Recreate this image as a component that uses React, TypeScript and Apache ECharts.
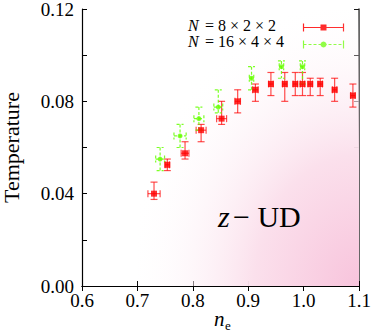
import React, { useEffect, useRef } from "react";
import * as echarts from "echarts";

// N = 8x2x2 (red)
const redNe = [0.730, 0.754, 0.786, 0.815, 0.852, 0.881, 0.913, 0.941, 0.966, 0.985, 0.998, 1.012, 1.030, 1.056, 1.089];
const redT = [0.040, 0.0525, 0.0575, 0.0675, 0.0725, 0.080, 0.085, 0.0875, 0.0875, 0.0875, 0.0875, 0.0875, 0.0875, 0.085, 0.0825];
const redUp = [0.005, 0.0025, 0.005, 0.0025, 0.0075, 0.005, 0.0025, 0.005, 0.005, 0.005, 0.005, 0.0025, 0.0025, 0.005, 0.005];
const redDown = [0.0025, 0.0025, 0.0025, 0.005, 0.0025, 0.005, 0.005, 0.005, 0.0075, 0.005, 0.005, 0.005, 0.005, 0.005, 0.005];
const redNeErr = [0.011, 0.004, 0.007, 0.009, 0.009, 0.005, 0.005, 0.004, 0.004, 0.004, 0.004, 0.004, 0.004, 0.004, 0.004];

// N = 16x4x4 (green)
const greenNe = [0.741, 0.777, 0.811, 0.846, 0.906, 0.960, 0.998];
const greenT = [0.055, 0.065, 0.0725, 0.0775, 0.090, 0.095, 0.095];
const greenUp = [0.005, 0.005, 0.005, 0.0075, 0.005, 0.0025, 0.0025];
const greenDown = [0.005, 0.005, 0.005, 0.0025, 0.005, 0.005, 0.0075];
const greenNeErr = [0.008, 0.011, 0.009, 0.008, 0.004, 0.004, 0.004];

const xTicks = { min: 0.6, max: 1.1, interval: 0.1 };
const yTicks = { min: 0, max: 0.12, interval: 0.02, labelEvery: 0.04 };
const regionNe = [0.7, 1.1];
const regionT = [0, 0.12];

const legendLabels = ["= 8 × 2 × 2", "= 16 × 4 × 4"];
const legendVar = "N";
const phaseVar = "z";
const phaseLabel = "− UD";
const xName = "n";
const xSub = "e";
const yName = "Temperature";

const RED = "#ff0000";
const GREEN = "#66ff00";
const FONT = "Liberation Serif";

function errRender(color: string, dashed: boolean) {
  return (params: any, api: any) => {
    const x = api.value(0), y = api.value(1), up = api.value(2), dn = api.value(3), xe = api.value(4);
    const top = api.coord([x, y + up]);
    const bot = api.coord([x, y - dn]);
    const lft = api.coord([x - xe, y]);
    const rgt = api.coord([x + xe, y]);
    const cap = 3.5;
    const style = { stroke: color, lineWidth: 1.2, lineDash: dashed ? [3, 2] : undefined };
    return {
      type: "group",
      children: [
        { type: "line", shape: { x1: top[0], y1: top[1], x2: bot[0], y2: bot[1] }, style },
        { type: "line", shape: { x1: top[0] - cap, y1: top[1], x2: top[0] + cap, y2: top[1] }, style },
        { type: "line", shape: { x1: bot[0] - cap, y1: bot[1], x2: bot[0] + cap, y2: bot[1] }, style },
        { type: "line", shape: { x1: lft[0], y1: lft[1], x2: rgt[0], y2: rgt[1] }, style },
        { type: "line", shape: { x1: lft[0], y1: lft[1] - cap, x2: lft[0], y2: lft[1] + cap }, style },
        { type: "line", shape: { x1: rgt[0], y1: rgt[1] - cap, x2: rgt[0], y2: rgt[1] + cap }, style },
      ],
    };
  };
}

const ts = (size: number, italic = false) => ({
  fontSize: size,
  fontFamily: FONT,
  fontStyle: italic ? "italic" : "normal",
  fontWeight: "normal",
  color: "#000",
});

const title = (text: string, left: number, top: number, size: number, italic = false) => ({
  text,
  left,
  top,
  padding: 0,
  textStyle: ts(size, italic),
});

export default function App() {
  const ref = useRef<HTMLDivElement>(null);
  useEffect(() => {
    if (!ref.current) return;
    const chart = echarts.init(ref.current, undefined, { renderer: "svg" });
    const redErr = redNe.map((v, i) => [v, redT[i], redUp[i], redDown[i], redNeErr[i]]);
    const greenErr = greenNe.map((v, i) => [v, greenT[i], greenUp[i], greenDown[i], greenNeErr[i]]);
    const axisLine = { show: true, lineStyle: { color: "#000", width: 1.2 } };
    const tickCommon = { show: true, inside: true, length: 5, lineStyle: { color: "#000", width: 1 } };
    chart.setOption({
      animation: false,
      backgroundColor: "#fff",
      textStyle: { fontFamily: FONT },
      title: [
        title(phaseVar, 218, 201, 30, true),
        title(phaseLabel, 233, 201, 30),
        title(legendVar, 188, 17, 16, true),
        title(legendLabels[0], 205, 17, 16),
        title(legendVar, 188, 33, 16, true),
        title(legendLabels[1], 205, 33, 16),
        title(xName, 214, 308, 21, true),
        title(xSub, 225, 319, 13),
      ],
      grid: { left: 82, right: 15, top: 9, bottom: 48, outerBoundsMode: "none" },
      xAxis: [
        {
          type: "value",
          min: xTicks.min,
          max: xTicks.max,
          interval: xTicks.interval,
          axisLine,
          axisTick: tickCommon,
          splitLine: { show: false },
          axisLabel: {
            color: "#000",
            fontSize: 19,
            fontFamily: FONT,
            margin: 5,
            formatter: (v: number) => v.toFixed(1),
          },
        },
        {
          type: "value",
          position: "top",
          min: xTicks.min,
          max: xTicks.max,
          interval: xTicks.interval,
          axisLine,
          axisTick: tickCommon,
          axisLabel: { show: false },
          splitLine: { show: false },
        },
      ],
      yAxis: [
        {
          type: "value",
          min: yTicks.min,
          max: yTicks.max,
          interval: yTicks.interval,
          axisLine,
          axisTick: tickCommon,
          splitLine: { show: false },
          axisLabel: {
            color: "#000",
            fontSize: 19,
            fontFamily: FONT,
            margin: 8,
            formatter: (v: number) =>
              Math.abs(v / yTicks.labelEvery - Math.round(v / yTicks.labelEvery)) < 1e-6 ? v.toFixed(2) : "",
          },
          name: yName,
          nameLocation: "middle",
          nameGap: 60,
          nameTextStyle: ts(22),
        },
        {
          type: "value",
          position: "right",
          min: yTicks.min,
          max: yTicks.max,
          interval: yTicks.interval,
          axisLine: { show: true, lineStyle: { color: "#333", width: 1.5 } },
          axisTick: tickCommon,
          axisLabel: { show: false },
          splitLine: { show: false },
        },
      ],
      series: [
        {
          type: "scatter",
          data: [],
          silent: true,
          markArea: {
            silent: true,
            itemStyle: {
              color: {
                type: "radial",
                x: 1,
                y: 1,
                r: 1.05,
                colorStops: [
                  { offset: 0, color: "#f8c4dc" },
                  { offset: 0.45, color: "#fbe0ec" },
                  { offset: 1, color: "rgba(255,255,255,0)" },
                ],
              },
            },
            data: [[{ xAxis: regionNe[0], yAxis: regionT[0] }, { xAxis: regionNe[1], yAxis: regionT[1] }]],
          },
          z: 0,
        },
        {
          type: "custom",
          renderItem: errRender("rgba(255,0,0,0.7)", false),
          data: redErr,
          z: 2,
        },
        {
          type: "custom",
          renderItem: errRender("rgba(102,255,0,0.85)", true),
          data: greenErr,
          z: 2,
        },
        {
          type: "scatter",
          symbol: "rect",
          symbolSize: 6,
          itemStyle: { color: RED },
          data: redNe.map((v, i) => [v, redT[i]]),
          z: 3,
        },
        {
          type: "scatter",
          symbol: "circle",
          symbolSize: 5,
          itemStyle: { color: GREEN },
          data: greenNe.map((v, i) => [v, greenT[i]]),
          z: 3,
        },
      ],
      graphic: [
        {
          type: "group",
          left: 301,
          top: 21,
          children: [
            { type: "line", shape: { x1: 0, y1: 4, x2: 40, y2: 4 }, style: { stroke: RED, lineWidth: 1.2 } },
            { type: "line", shape: { x1: 0, y1: 0, x2: 0, y2: 8 }, style: { stroke: RED, lineWidth: 1.2 } },
            { type: "line", shape: { x1: 40, y1: 0, x2: 40, y2: 8 }, style: { stroke: RED, lineWidth: 1.2 } },
            { type: "rect", shape: { x: 17, y: 1, width: 6, height: 6 }, style: { fill: RED } },
            { type: "line", shape: { x1: 0, y1: 21, x2: 40, y2: 21 }, style: { stroke: GREEN, lineWidth: 1.2, lineDash: [3, 2] } },
            { type: "line", shape: { x1: 0, y1: 17, x2: 0, y2: 25 }, style: { stroke: GREEN, lineWidth: 1.2 } },
            { type: "line", shape: { x1: 40, y1: 17, x2: 40, y2: 25 }, style: { stroke: GREEN, lineWidth: 1.2 } },
            { type: "circle", shape: { cx: 20, cy: 21, r: 3 }, style: { fill: GREEN } },
          ],
          z: 10,
        },
      ],
    });
    return () => chart.dispose();
  }, []);
  return (
    <div
      ref={ref}
      style={{ position: "fixed", left: 0, top: 0, width: 374, height: 334, background: "#fff" }}
    />
  );
}
